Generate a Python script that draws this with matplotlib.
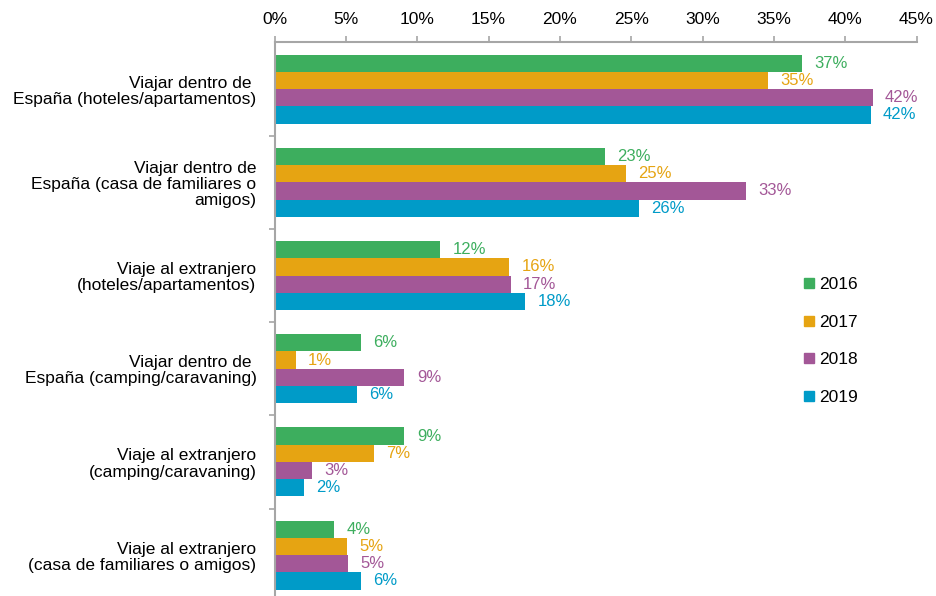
import matplotlib
matplotlib.use("Agg")
import matplotlib.pyplot as plt
from matplotlib.lines import Line2D
from matplotlib.ticker import FixedLocator, PercentFormatter

plt.rcParams['font.family'] = ['Liberation Sans', 'DejaVu Sans']

categories = [
    "Viajar dentro de \nEspaña (hoteles/apartamentos)",
    "Viajar dentro de\nEspaña (casa de familiares o\namigos)",
    "Viaje al extranjero\n(hoteles/apartamentos)",
    "Viajar dentro de \nEspaña (camping/caravaning)",
    "Viaje al extranjero\n(camping/caravaning)",
    "Viaje al extranjero\n(casa de familiares o amigos)",
]
years = ["2016", "2017", "2018", "2019"]
v2016 = [36.97, 23.16, 11.60, 6.06, 9.10, 4.17]
v2017 = [34.56, 24.61, 16.43, 1.48, 6.97, 5.06]
v2018 = [41.92, 33.02, 16.55, 9.10, 2.61, 5.13]
v2019 = [41.78, 25.54, 17.55, 5.76, 2.07, 6.06]
series = [v2016, v2017, v2018, v2019]
colors = ["#3DAE5E", "#E6A412", "#A35797", "#009BC8"]

fig = plt.figure(figsize=(9.36, 5.96), dpi=100)
ax = fig.add_axes([274.5 / 936, -0.0096, 642 / 936, 0.9383])

bar_h = 0.185
pos = list(range(len(categories)))
for k, (vals, col) in enumerate(zip(series, colors)):
    ys = [p + (k - 1.5) * bar_h for p in pos]
    ax.barh(ys, vals, height=bar_h, color=col, edgecolor='none')
    for y, v in zip(ys, vals):
        ax.annotate(f"{v:.0f}%", (v, y), xytext=(9, 0), textcoords='offset points',
                    va='center', ha='left', color=col, fontsize=12)

ax.set_xlim(0, 45)
ax.set_ylim(len(categories) - 0.5, -0.5)
ax.set_xticks(range(0, 46, 5))
ax.xaxis.set_major_formatter(PercentFormatter(decimals=0))
ax.xaxis.tick_top()
ax.set_yticks(pos)
ax.set_yticklabels(categories, linespacing=1.1)
ax.yaxis.set_minor_locator(FixedLocator([p + 0.5 for p in pos]))

for s in ['right', 'bottom']:
    ax.spines[s].set_visible(False)
for s in ['top', 'left']:
    ax.spines[s].set_color('#A6A6A6')
    ax.spines[s].set_linewidth(1.5)

ax.tick_params(axis='x', which='major', direction='out', length=4, width=1.2,
               color='#A6A6A6', labelsize=12.5, pad=7.5)
ax.tick_params(axis='y', which='major', length=0, labelsize=12.5, pad=13)
ax.tick_params(axis='y', which='minor', direction='out', length=4, width=1.2,
               color='#A6A6A6')

handles = [Line2D([0], [0], marker='s', linestyle='none', markersize=7.5,
                  markerfacecolor=c, markeredgecolor=c) for c in colors]
fig.legend(handles, years, loc='center left', bbox_to_anchor=(802 / 936, 1 - 341 / 596),
           frameon=False, fontsize=12.5, handlelength=0.8, handletextpad=0.2,
           labelspacing=1.3, borderpad=0, borderaxespad=0)

fig.savefig("out.png", dpi=100)
